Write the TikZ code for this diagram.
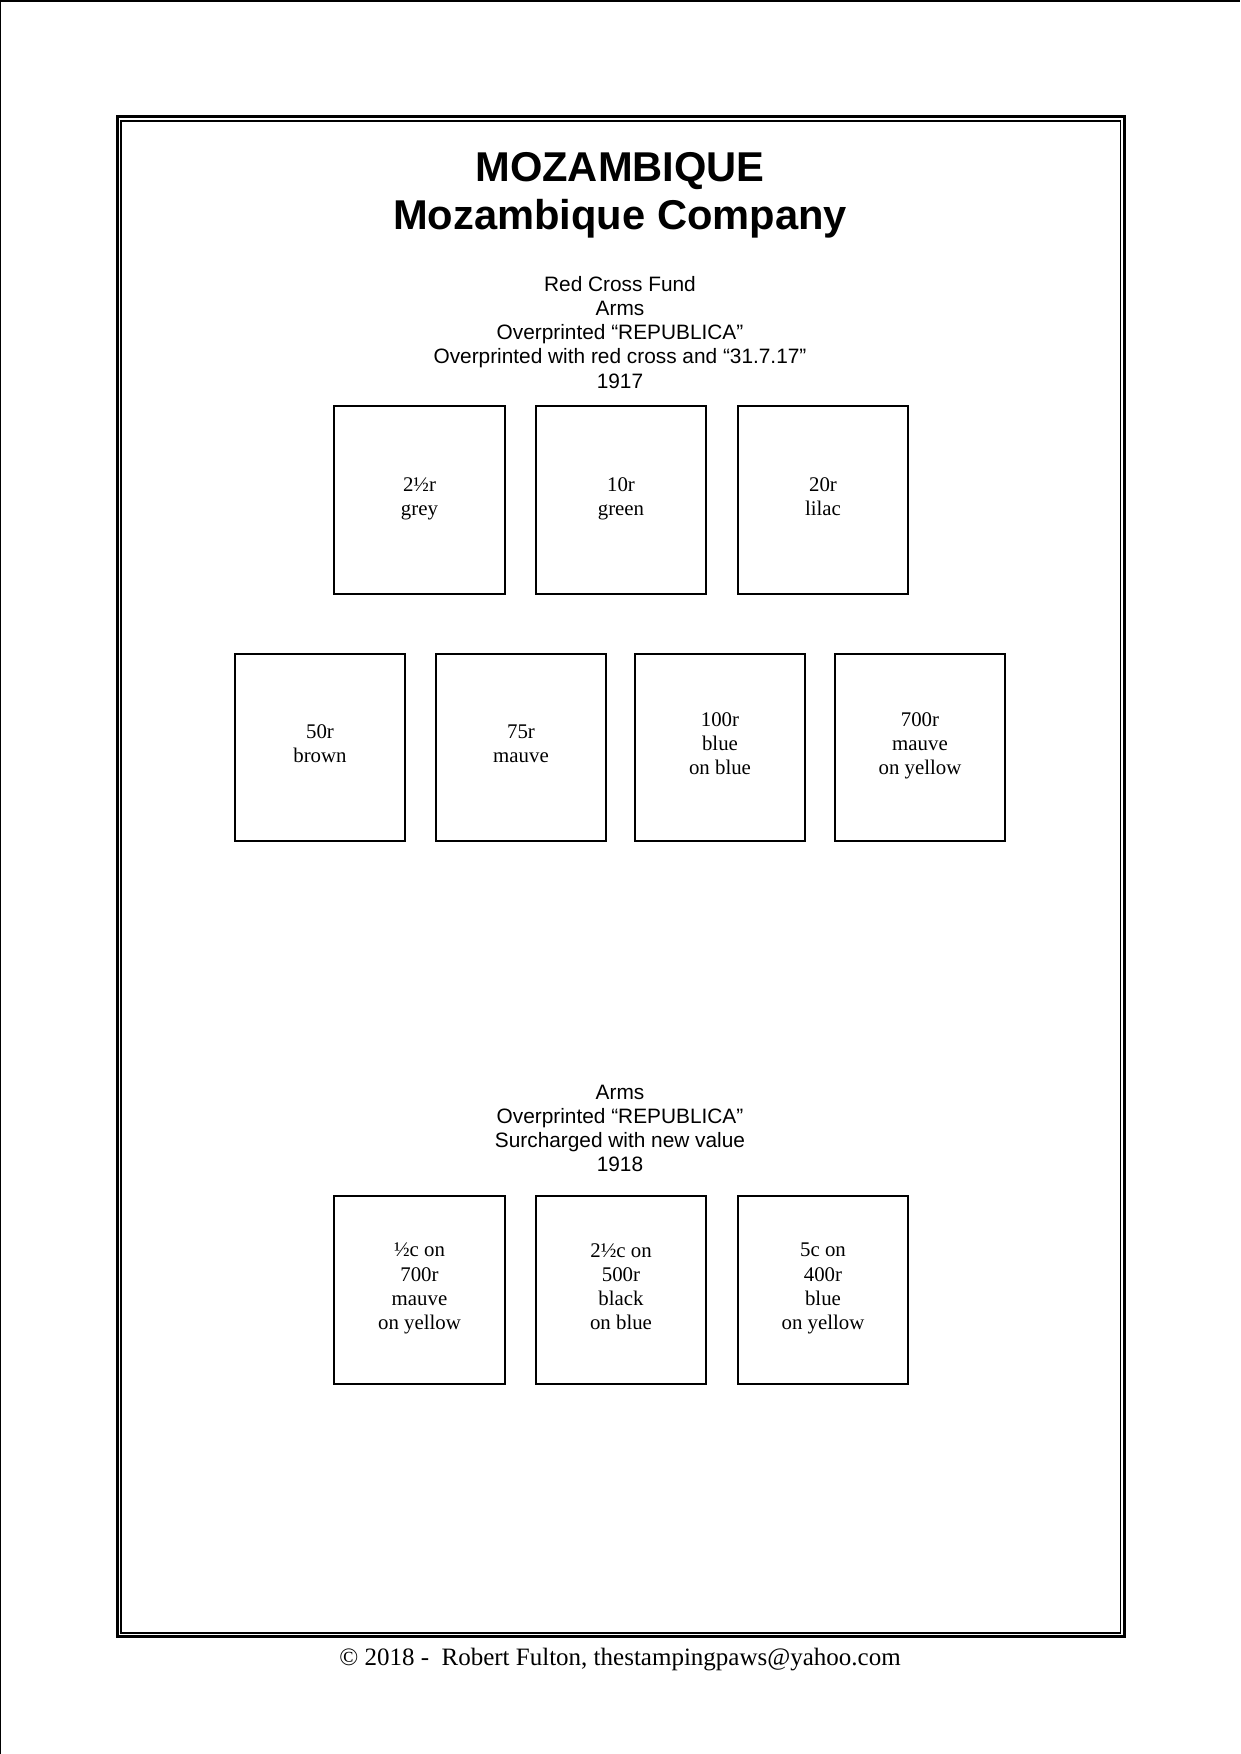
\documentclass[tikz,border=0pt]{standalone}
\usepackage{fontspec}
\setmainfont{Liberation Serif}
\newfontfamily\arialfont{Liberation Sans}
\begin{document}
\begin{tikzpicture}[x=0.48bp,y=-0.48bp,
  stamp/.style={draw,line width=0.96bp,minimum width=81.6bp,minimum height=90.2bp,inner sep=0pt,outer sep=0pt,align=center,font=\fontsize{10bp}{11.6bp}\selectfont,execute at begin node=\strut,execute at end node=\strut},
  titletext/.style={anchor=base,inner sep=0pt,font=\arialfont\bfseries\fontsize{20bp}{24bp}\selectfont},
  headtext/.style={anchor=base,inner sep=0pt,font=\arialfont\fontsize{10bp}{12bp}\selectfont},
  foottext/.style={anchor=base,inner sep=0pt,font=\fontsize{12bp}{14bp}\selectfont}]
\useasboundingbox (0,0) rectangle (1240,1754);
% page edge lines
\coordinate (pbl) at (0.75,1754);
\coordinate (ptl) at (0.75,0.75);
\coordinate (ptr) at (1240,0.75);
\draw[line width=0.72bp] (pbl) -- (ptl) -- (ptr);
% double frame
\coordinate (fo1) at (117,116.5);
\coordinate (fo2) at (1124.5,1636.5);
\coordinate (fi1) at (121,121);
\coordinate (fi2) at (1120.5,1633);
\draw[line width=1.44bp] (fo1) rectangle (fo2);
\draw[line width=0.82bp] (fi1) rectangle (fi2);
% titles
\node[titletext] (t1) at (620,181) {MOZAMBIQUE};
\node[titletext] (t2) at (620,229) {Mozambique Company};
% first heading
\node[headtext] (h1) at (620,291) {Red Cross Fund};
\node[headtext] (h2) at (620,315.25) {Arms};
\node[headtext] (h3) at (620,339.5) {Overprinted “REPUBLICA”};
\node[headtext] (h4) at (620,363.75) {Overprinted with red cross and “31.7.17”};
\node[headtext] (h5) at (620,388) {1917};
% row 1
\node[stamp] (s1) at (419.5,500) {2½r\\grey};
\node[stamp] (s2) at (621,500) {10r\\green};
\node[stamp] (s3) at (823,500) {20r\\lilac};
% row 2
\node[stamp] (s4) at (320,747.5) {50r\\brown};
\node[stamp] (s5) at (521,747.5) {75r\\mauve};
\node[stamp] (s6) at (720,747.5) {100r\\blue\\on blue};
\node[stamp] (s7) at (920,747.5) {700r\\mauve\\on yellow};
% second heading
\node[headtext] (g1) at (620,1099) {Arms};
\node[headtext] (g2) at (620,1123.25) {Overprinted “REPUBLICA”};
\node[headtext] (g3) at (620,1147.5) {Surcharged with new value};
\node[headtext] (g4) at (620,1171.75) {1918};
% row 3
\node[stamp] (s8) at (419.5,1290) {½c on\\700r\\mauve\\on yellow};
\node[stamp] (s9) at (621,1290) {2½c on\\500r\\black\\on blue};
\node[stamp] (s10) at (823,1290) {5c on\\400r\\blue\\on yellow};
% footer
\node[foottext] (foot) at (620,1665) {© 2018 -\ \ Robert Fulton, thestampingpaws@yahoo.com};
\end{tikzpicture}
\end{document}
